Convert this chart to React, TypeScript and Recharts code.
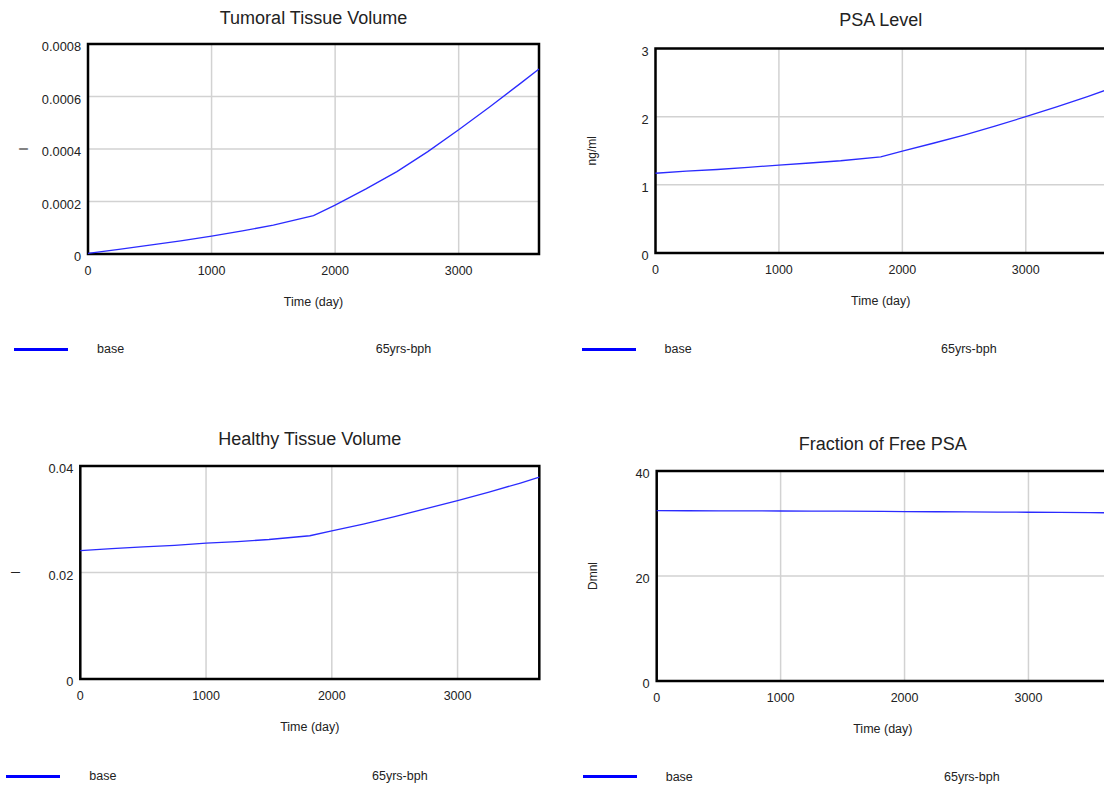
import React from 'react';
import { LineChart, Line, XAxis, YAxis, CartesianGrid, ReferenceArea } from 'recharts';

// ---------- data ----------
const timeDays = [0, 250, 500, 750, 1000, 1250, 1500, 1825, 2000, 2250, 2500, 2750, 3000, 3250, 3500, 3650];
const tumoralVolume = [0.000002, 0.000018, 0.000034, 0.00005, 0.000068, 0.000088, 0.00011, 0.000146, 0.000186, 0.000248, 0.000314, 0.00039, 0.000473, 0.00056, 0.00065, 0.000705];
const psaLevel = [1.17, 1.2, 1.225, 1.257, 1.289, 1.32, 1.353, 1.41, 1.495, 1.61, 1.73, 1.86, 2.0, 2.145, 2.295, 2.39];
const healthyVolume = [0.0241, 0.0245, 0.0248, 0.0251, 0.0255, 0.0258, 0.0262, 0.0269, 0.0278, 0.0291, 0.0305, 0.032, 0.0335, 0.0351, 0.0368, 0.0379];
const freePsaFraction = [32.44, 32.43, 32.42, 32.4, 32.38, 32.36, 32.34, 32.3, 32.27, 32.24, 32.21, 32.18, 32.14, 32.1, 32.06, 32.04];

const xTicks = [0, 1000, 2000, 3000];
const xTickLabels = ['0', '1000', '2000', '3000'];
const tumoralTicks = [0, 0.0002, 0.0004, 0.0006, 0.0008];
const tumoralTickLabels = ['0', '0.0002', '0.0004', '0.0006', '0.0008'];
const psaTicks = [0, 1, 2, 3];
const psaTickLabels = ['0', '1', '2', '3'];
const healthyTicks = [0, 0.02, 0.04];
const healthyTickLabels = ['0', '0.02', '0.04'];
const freePsaTicks = [0, 20, 40];
const freePsaTickLabels = ['0', '20', '40'];

const titles = ['Tumoral Tissue Volume', 'PSA Level', 'Healthy Tissue Volume', 'Fraction of Free PSA'];
const yUnits = ['l', 'ng/ml', 'l', 'Dmnl'];
const xAxisTitle = 'Time (day)';
const seriesName = 'base';
const runName = '65yrs-bph';

const X_MAX = 3650;

// ---------- layout (separate from data) ----------
const CHART_W = 560;
const CHART_H = 390;
const Y_W = 60;
const X_H = 60;
const FONT = '"Liberation Sans", Arial, Helvetica, sans-serif';
const TEXT = '#222';

type Layout = {
  chartLeft: number; chartTop: number;
  plotLeft: number; plotRight: number; plotTop: number; plotBottom: number;
  titleY: number; legendY: number; runX: number;
};

const layouts: Layout[] = [
  { chartLeft: 0, chartTop: 0, plotLeft: 88, plotRight: 539, plotTop: 44, plotBottom: 254, titleY: 17.5, legendY: 349, runX: 375.7 },
  { chartLeft: 560, chartTop: 0, plotLeft: 655.5, plotRight: 1106, plotTop: 48.5, plotBottom: 253, titleY: 20, legendY: 349, runX: 941 },
  { chartLeft: 0, chartTop: 400, plotLeft: 80.3, plotRight: 539.3, plotTop: 466, plotBottom: 679, titleY: 439, legendY: 776, runX: 372 },
  { chartLeft: 560, chartTop: 400, plotLeft: 656.7, plotRight: 1109, plotTop: 471, plotBottom: 681, titleY: 444, legendY: 776.5, runX: 944 },
];

const panels = [
  { values: tumoralVolume, ticks: tumoralTicks, labels: tumoralTickLabels },
  { values: psaLevel, ticks: psaTicks, labels: psaTickLabels },
  { values: healthyVolume, ticks: healthyTicks, labels: healthyTickLabels },
  { values: freePsaFraction, ticks: freePsaTicks, labels: freePsaTickLabels },
];

function buildRows(values: number[]) {
  return timeDays.map((t, i) => ({ t, v: values[i] }));
}

function makeXTick() {
  return (props: any) => {
    const { x, y, payload } = props;
    const idx = xTicks.indexOf(payload.value);
    return (
      <text x={x} y={y} dy={20.5} textAnchor="middle" fill={TEXT} fontSize={12.5} fontFamily={FONT}>
        {idx >= 0 ? xTickLabels[idx] : String(payload.value)}
      </text>
    );
  };
}

function makeYTick(ticks: number[], labels: string[]) {
  return (props: any) => {
    const { x, y, payload } = props;
    const idx = ticks.indexOf(payload.value);
    return (
      <text x={x} y={y} dx={-7} dy={7} textAnchor="end" fill={TEXT} fontSize={12.8} fontFamily={FONT}>
        {idx >= 0 ? labels[idx] : String(payload.value)}
      </text>
    );
  };
}

function Panel({ index }: { index: number }) {
  const L = layouts[index];
  const P = panels[index];
  const yMax = P.ticks[P.ticks.length - 1];
  const margin = {
    left: L.plotLeft - L.chartLeft - Y_W,
    right: L.chartLeft + CHART_W - L.plotRight,
    top: L.plotTop - L.chartTop,
    bottom: L.chartTop + CHART_H - L.plotBottom - X_H,
  };
  const plotCenter = (L.plotLeft + L.plotRight) / 2;
  const unit = yUnits[index];

  return (
    <>
      <div style={{ position: 'absolute', left: L.chartLeft, top: L.chartTop, width: CHART_W, height: CHART_H }}>
        <LineChart width={CHART_W} height={CHART_H} data={buildRows(P.values)} margin={margin}>
          <CartesianGrid stroke="#d2d2d2" strokeWidth={1.5} />
          <XAxis
            dataKey="t"
            type="number"
            domain={[0, X_MAX]}
            ticks={xTicks}
            height={X_H}
            axisLine={false}
            tickLine={false}
            tickSize={0}
            tickMargin={0}
            tick={makeXTick()}
            interval={0}
            label={{
              content: (p: any) => {
                const vb = p.viewBox || {};
                return (
                  <text x={vb.x + vb.width / 2} y={vb.y + 47} dy={4.5} textAnchor="middle" fill={TEXT} fontSize={12.5} fontFamily={FONT}>
                    {xAxisTitle}
                  </text>
                );
              },
            }}
          />
          <YAxis
            type="number"
            domain={[0, yMax]}
            ticks={P.ticks}
            width={Y_W}
            axisLine={false}
            tickLine={false}
            tickSize={0}
            tickMargin={0}
            tick={makeYTick(P.ticks, P.labels)}
            interval={0}
            label={{
              content: (p: any) => {
                const vb = p.viewBox || {};
                const cx = vb.x + vb.width - 64;
                const cy = vb.y + vb.height / 2;
                return (
                  <text x={cx} y={cy} textAnchor="middle" dominantBaseline="central" transform={`rotate(-90 ${cx} ${cy})`} fill={TEXT} fontSize={12} fontFamily={FONT}>
                    {unit}
                  </text>
                );
              },
            }}
          />
          <ReferenceArea x1={0} x2={X_MAX} y1={0} y2={yMax} fill="none" fillOpacity={0} stroke="#000" strokeWidth={2.5} ifOverflow="extendDomain" />
          <Line dataKey="v" type="linear" stroke="#2b2bff" strokeWidth={1.3} dot={false} isAnimationActive={false} />
        </LineChart>
      </div>
      <div style={{ position: 'absolute', left: plotCenter - 200, width: 400, top: L.titleY - 11, height: 22, lineHeight: '22px', textAlign: 'center', fontSize: 18, color: TEXT, fontFamily: FONT, whiteSpace: 'nowrap' }}>
        {titles[index]}
      </div>
      <div style={{ position: 'absolute', left: L.plotLeft - 74, top: L.legendY - 1.5, width: 54, height: 3, background: '#0000ff' }} />
      <div style={{ position: 'absolute', left: L.plotLeft + 9, top: L.legendY - 8, height: 16, lineHeight: '16px', fontSize: 12.5, color: TEXT, fontFamily: FONT, whiteSpace: 'nowrap' }}>
        {seriesName}
      </div>
      <div style={{ position: 'absolute', left: L.runX, top: L.legendY - 8, height: 16, lineHeight: '16px', fontSize: 12.5, color: TEXT, fontFamily: FONT, whiteSpace: 'nowrap' }}>
        {runName}
      </div>
    </>
  );
}

export default function App() {
  return (
    <div style={{ position: 'absolute', left: 0, top: 0, width: 1104, height: 785, overflow: 'hidden', background: '#fff', fontFamily: FONT }}>
      {[0, 1, 2, 3].map((i) => (
        <Panel key={i} index={i} />
      ))}
    </div>
  );
}
